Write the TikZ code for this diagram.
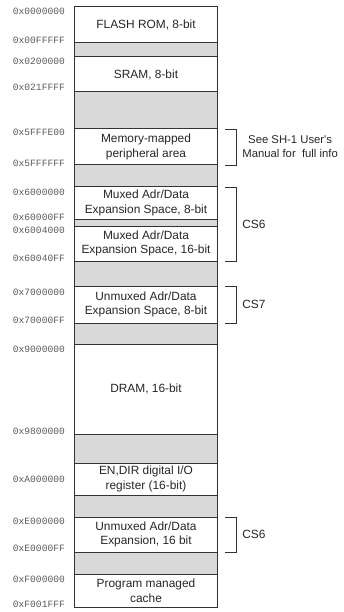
\documentclass[tikz,border=0pt]{standalone}
\usepackage{fontspec}
\setmainfont{Liberation Sans}
\newfontfamily\addrfont{Liberation Mono}
\usetikzlibrary{positioning}
\definecolor{MapGray}{HTML}{D9D9D9}
\definecolor{MapLine}{HTML}{333333}

\begin{document}
\begin{tikzpicture}[x=1pt, y=1pt,
  mem/.style={draw=MapLine, line width=1pt, minimum width=143pt, inner sep=0pt,
    outer sep=0pt, align=center, font=\fontsize{11.9}{14.5}\selectfont, text=black!85},
  hole/.style={mem, fill=MapGray},
  addr/.style={font=\addrfont\fontsize{9.6}{10}\selectfont, text=black!65,
    inner sep=0pt, anchor=east},
  brace/.style={draw=MapLine, line width=0.8pt},
  note/.style={font=\fontsize{11.9}{14}\selectfont, align=center, anchor=west,
    inner sep=0pt, text=black!85}]
  \useasboundingbox (0,0) rectangle (343,-612);

  % memory column
  \node[mem, minimum height=36pt, anchor=north west] (flash) at (74.5,-7) {FLASH ROM, 8-bit};
  \node[hole, minimum height=14pt, below=0pt of flash] (gap1) {};
  \node[mem, minimum height=35pt, below=0pt of gap1] (sram) {SRAM, 8-bit};
  \node[hole, minimum height=37pt, below=0pt of sram] (gap2) {};
  \node[mem, minimum height=36pt, below=0pt of gap2] (mmio) {Memory-mapped\\peripheral area};
  \node[hole, minimum height=22pt, below=0pt of mmio] (gap3) {};
  \node[mem, minimum height=32pt, below=0pt of gap3] (mux8) {Muxed Adr/Data\\Expansion Space, 8-bit};
  \node[hole, minimum height=7pt, below=0pt of mux8] (gap4) {};
  \node[mem, minimum height=35pt, below=0pt of gap4] (mux16) {Muxed Adr/Data\\Expansion Space, 16-bit};
  \node[hole, minimum height=25pt, below=0pt of mux16] (gap5) {};
  \node[mem, minimum height=37pt, below=0pt of gap5] (unmux8) {Unmuxed Adr/Data\\Expansion Space, 8-bit};
  \node[hole, minimum height=21pt, below=0pt of unmux8] (gap6) {};
  \node[mem, minimum height=90pt, below=0pt of gap6] (dram) {DRAM, 16-bit};
  \node[hole, minimum height=29pt, below=0pt of dram] (gap7) {};
  \node[mem, minimum height=32pt, below=0pt of gap7] (endir) {EN,DIR digital I/O\\register (16-bit)};
  \node[hole, minimum height=22pt, below=0pt of endir] (gap8) {};
  \node[mem, minimum height=35pt, below=0pt of gap8] (unmux16) {Unmuxed Adr/Data\\Expansion, 16 bit};
  \node[hole, minimum height=22pt, below=0pt of unmux16] (gap9) {};
  \node[mem, minimum height=33pt, below=0pt of gap9] (cache) {Program managed\\cache};

  % addresses
  \node[addr] (aflashlo) at ([xshift=-9.5pt, yshift=-4.5pt]flash.north west) {0x0000000};
  \node[addr] (aflashhi) at ([xshift=-9.5pt, yshift=2.5pt]flash.south west) {0x00FFFFF};
  \node[addr] (asramlo) at ([xshift=-9.5pt, yshift=-4.5pt]sram.north west) {0x0200000};
  \node[addr] (asramhi) at ([xshift=-9.5pt, yshift=4.5pt]sram.south west) {0x021FFFF};
  \node[addr] (ammiolo) at ([xshift=-9.5pt, yshift=-3pt]mmio.north west) {0x5FFFE00};
  \node[addr] (ammiohi) at ([xshift=-9.5pt, yshift=2pt]mmio.south west) {0x5FFFFFF};
  \node[addr] (amuxalo) at ([xshift=-9.5pt, yshift=-5pt]mux8.north west) {0x6000000};
  \node[addr] (amuxahi) at ([xshift=-9.5pt, yshift=2pt]mux8.south west) {0x60000FF};
  \node[addr] (amuxblo) at ([xshift=-9.5pt, yshift=-4pt]mux16.north west) {0x6004000};
  \node[addr] (amuxbhi) at ([xshift=-9.5pt, yshift=3pt]mux16.south west) {0x60040FF};
  \node[addr] (aunmuxalo) at ([xshift=-9.5pt, yshift=-6pt]unmux8.north west) {0x7000000};
  \node[addr] (aunmuxahi) at ([xshift=-9.5pt, yshift=3pt]unmux8.south west) {0x70000FF};
  \node[addr] (adramlo) at ([xshift=-9.5pt, yshift=-5pt]dram.north west) {0x9000000};
  \node[addr] (adramhi) at ([xshift=-9.5pt, yshift=3pt]dram.south west) {0x9800000};
  \node[addr] (aendir) at ([xshift=-9.5pt, yshift=0pt]endir.west) {0xA000000};
  \node[addr] (aunmuxblo) at ([xshift=-9.5pt, yshift=-4pt]unmux16.north west) {0xE000000};
  \node[addr] (aunmuxbhi) at ([xshift=-9.5pt, yshift=4pt]unmux16.south west) {0xE0000FF};
  \node[addr] (acachelo) at ([xshift=-9.5pt, yshift=-5pt]cache.north west) {0xF000000};
  \node[addr] (acachehi) at ([xshift=-9.5pt, yshift=3pt]cache.south west) {0xF001FFF};

  % chip-select brackets
  \draw[brace] ([xshift=7.5pt]mmio.north east) -- ++(11,0)
    |- node[note, pos=0.25, xshift=6pt, font=\fontsize{11.3}{14}\selectfont] (seenote)
      {See SH-1 User\textquotesingle s\\Manual for\ \ full info}
    ([xshift=7.5pt]mmio.south east);
  \draw[brace] ([xshift=7.5pt]mux8.north east) -- ++(11,0)
    |- node[note, pos=0.25, xshift=6pt] (csmux) {CS6}
    ([xshift=7.5pt]mux16.south east);
  \draw[brace] ([xshift=7.5pt]unmux8.north east) -- ++(11,0)
    |- node[note, pos=0.25, xshift=6pt] (csunmuxa) {CS7}
    ([xshift=7.5pt]unmux8.south east);
  \draw[brace] ([xshift=7.5pt]unmux16.north east) -- ++(11,0)
    |- node[note, pos=0.25, xshift=6pt] (csunmuxb) {CS6}
    ([xshift=7.5pt]unmux16.south east);
\end{tikzpicture}
\end{document}
